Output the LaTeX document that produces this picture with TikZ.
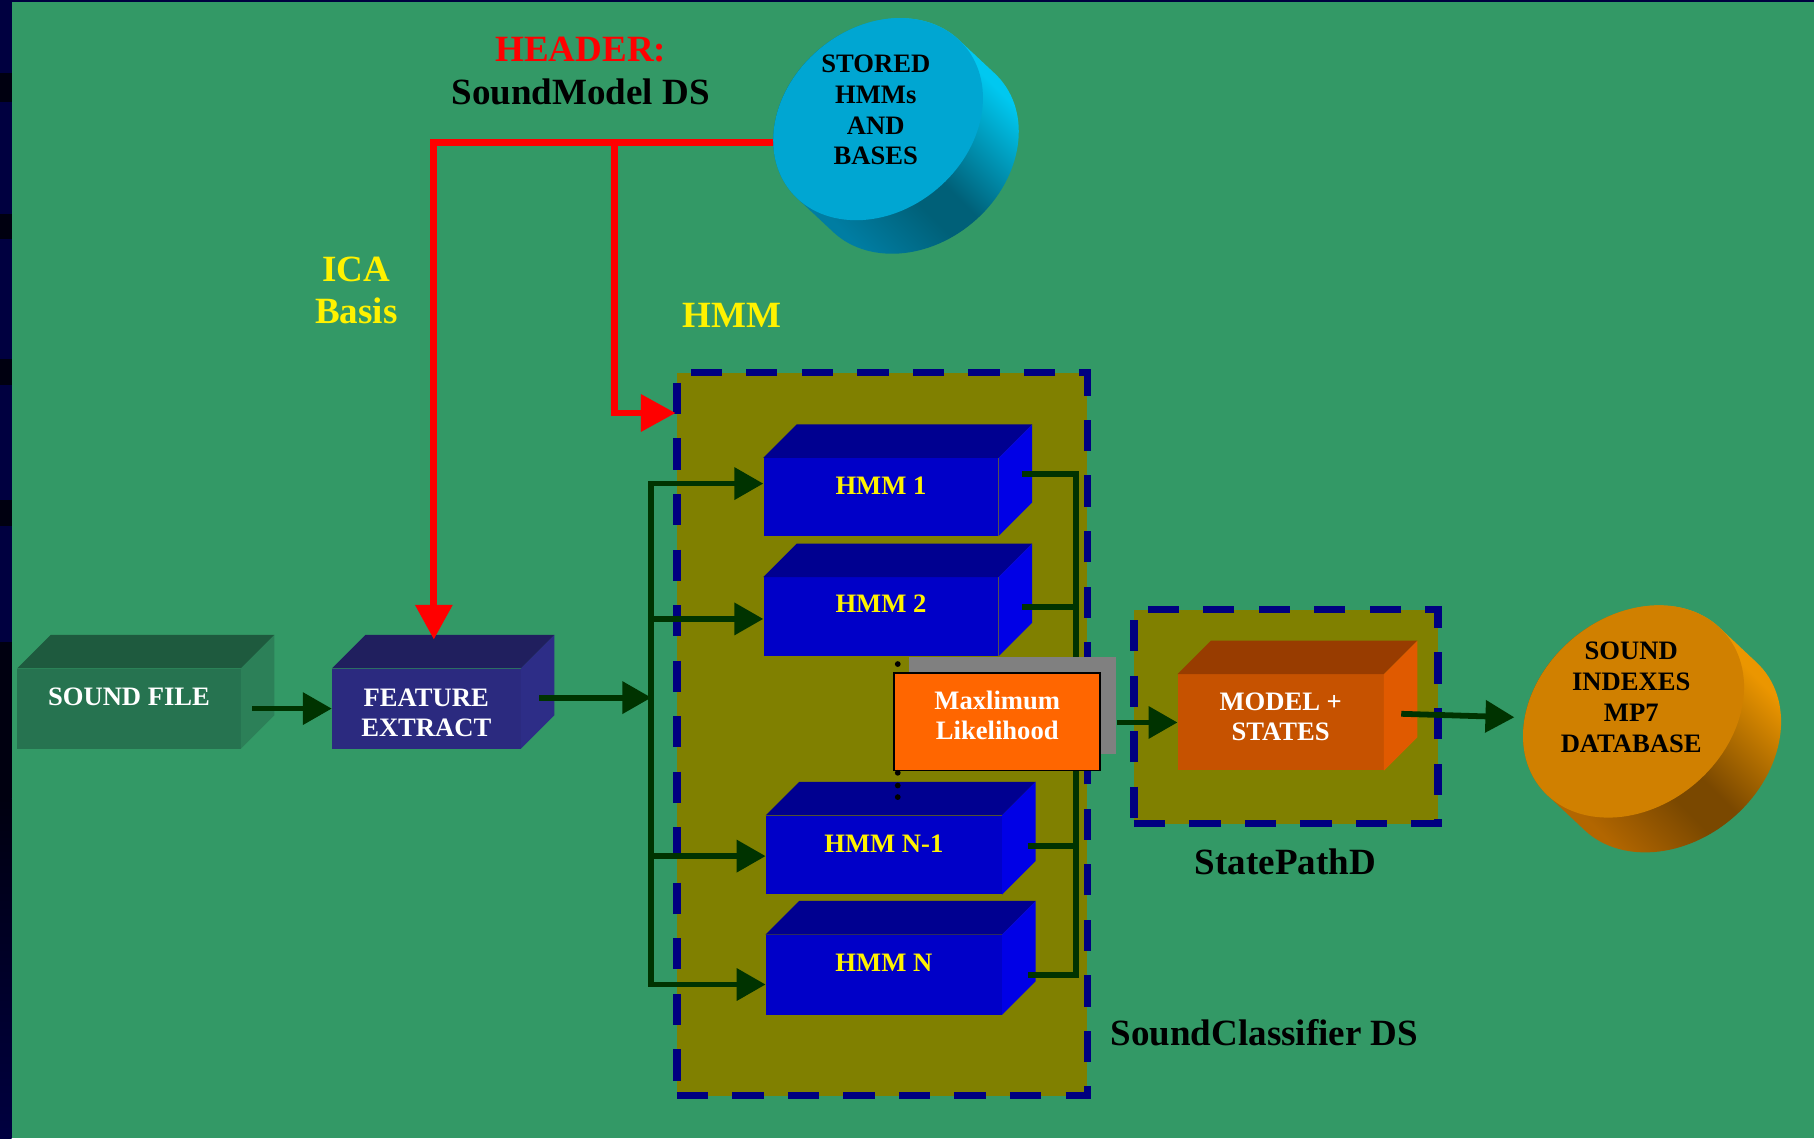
\documentclass[tikz,border=0pt]{standalone}
\usepackage{fontspec}
\setmainfont{Liberation Serif}
\usetikzlibrary{arrows.meta}

\definecolor{bggreen}{RGB}{51,153,102}
\definecolor{stripnavy}{RGB}{0,0,64}
\definecolor{stripdark}{RGB}{0,0,16}
\definecolor{olivebg}{RGB}{128,128,0}
\definecolor{dsnavy}{RGB}{0,0,128}
\definecolor{flowgreen}{RGB}{0,51,0}
\definecolor{sffront}{RGB}{38,115,80}
\definecolor{sftop}{RGB}{30,90,62}
\definecolor{sfside}{RGB}{44,128,88}
\definecolor{fefront}{RGB}{43,42,127}
\definecolor{fetop}{RGB}{32,31,94}
\definecolor{feside}{RGB}{45,45,135}
\definecolor{hmfront}{RGB}{0,0,200}
\definecolor{hmtop}{RGB}{0,0,144}
\definecolor{hmside}{RGB}{0,0,230}
\definecolor{mdfront}{RGB}{198,82,0}
\definecolor{mdtop}{RGB}{152,60,0}
\definecolor{mdside}{RGB}{224,90,0}
\definecolor{mlorange}{RGB}{255,102,0}
\definecolor{cyface}{RGB}{0,166,210}
\definecolor{cylight}{RGB}{0,200,240}
\definecolor{cydark}{RGB}{0,96,120}
\definecolor{cymid}{RGB}{0,125,162}
\definecolor{orface}{RGB}{208,128,0}
\definecolor{orlight}{RGB}{235,150,0}
\definecolor{ordark}{RGB}{122,72,0}
\definecolor{ormid}{RGB}{178,102,0}

\pgfdeclarehorizontalshading{drumcyan}{100bp}{color(0bp)=(cymid); color(30bp)=(cymid); color(44bp)=(cydark); color(50bp)=(cydark); color(70bp)=(cylight); color(100bp)=(cylight)}
\pgfdeclarehorizontalshading{drumorange}{100bp}{color(0bp)=(ormid); color(30bp)=(ormid); color(44bp)=(ordark); color(50bp)=(ordark); color(70bp)=(orlight); color(100bp)=(orlight)}

% top and right faces of a box whose front face is node #1
\newcommand{\blockfaces}[3]{%
  \fill[#2] (#1.north west) -- ++(29,-29) -- ([shift={(29,-29)}]#1.north east) -- (#1.north east) -- cycle;
  \fill[#3] (#1.north east) -- ++(29,-29) -- ([shift={(29,-29)}]#1.south east) -- (#1.south east) -- cycle;
}

\begin{document}
\begin{tikzpicture}[x=1pt, y=-1pt,
    flow/.style={draw=flowgreen, line width=5pt, -{Triangle[length=25pt, width=27pt]}},
    busline/.style={draw=flowgreen, line width=5pt},
    redflow/.style={draw=red, line width=6pt, -{Triangle[length=30pt, width=31pt]}},
    dsbox/.style={draw=dsnavy, fill=olivebg, line width=6.5pt, dash pattern=on 27pt off 21pt},
    blockface/.style={rectangle, inner sep=0pt, draw=none},
    cubetext/.style={font=\bfseries\fontsize{23}{26}\selectfont, align=center, text=white, inner sep=0pt},
    headtext/.style={font=\bfseries\fontsize{32}{37}\selectfont, align=center, inner sep=0pt},
    drumtext/.style={font=\bfseries\fontsize{23}{26.7}\selectfont, align=center, inner sep=0pt}]

	\useasboundingbox (0,0) rectangle (1568,984);
	\fill[bggreen] (0,0) rectangle (1568,984);
	\fill[stripnavy] (0,0) rectangle (10,984);
	\fill[stripnavy] (0,0) rectangle (1568,2);
	\foreach \a/\b in {63/88, 185/207, 310/333, 432/455}
		\fill[stripdark] (0,\a) rectangle (10,\b);
	\fill[stripdark] (0,555) rectangle (10,690);
	\shade[top color=stripdark, bottom color=stripnavy] (0,690) rectangle (10,984);

	% titles
	\node[headtext] (header) at (502,61.5) {\textcolor{red}{HEADER:}\\SoundModel DS};
	\node[headtext, text=yellow] (ica) at (308,251) {ICA\\Basis};
	\node[headtext, text=yellow] (hmmlbl) at (633,273) {HMM};

	% descriptor frames
	\node[dsbox, minimum width=355, minimum height=625] (hmmds) at (762.5,634.5) {};
	\node[dsbox, minimum width=263, minimum height=185] (spd) at (1111.5,619.5) {};

	% boxes
	\node[blockface, fill=sffront, minimum width=193, minimum height=69,
		label={[cubetext, yshift=10.5pt]center:SOUND FILE}] (sfile) at (111.5,612.5) {};
	\blockfaces{sfile}{sftop}{sfside}
	\node[blockface, fill=fefront, minimum width=163, minimum height=69,
		label={[cubetext, yshift=-3.5pt]center:FEATURE\\EXTRACT}] (feat) at (368.5,612.5) {};
	\blockfaces{feat}{fetop}{feside}
	\node[blockface, fill=hmfront, minimum width=203, minimum height=67,
		label={[cubetext, text=yellow, yshift=9.5pt]center:HMM 1}] (hmma) at (761.5,429.5) {};
	\blockfaces{hmma}{hmtop}{hmside}
	\node[blockface, fill=hmfront, minimum width=203, minimum height=68,
		label={[cubetext, text=yellow, yshift=11pt]center:HMM 2}] (hmmb) at (761.5,533) {};
	\blockfaces{hmmb}{hmtop}{hmside}
	\node[blockface, fill=hmfront, minimum width=204, minimum height=68,
		label={[cubetext, text=yellow, yshift=10pt]center:HMM N-1}] (hmmc) at (764,739) {};
	\blockfaces{hmmc}{hmtop}{hmside}
	\node[blockface, fill=hmfront, minimum width=204, minimum height=69,
		label={[cubetext, text=yellow, yshift=10.5pt]center:HMM N}] (hmmd) at (764,842.5) {};
	\blockfaces{hmmd}{hmtop}{hmside}
	\node[blockface, fill=mdfront, minimum width=178, minimum height=83,
		label={[cubetext, yshift=4.5pt]center:MODEL +\\STATES}] (model) at (1107,624.5) {};
	\blockfaces{model}{mdtop}{mdside}

	% header links
	\coordinate (storeout) at (672,123);
	\coordinate (hmmtap) at (531,123);
	\coordinate (hmmin) at (584,357);
	\draw[redflow] (storeout) -| ([shift={(6.5,-25)}]feat.north);
	\draw[redflow] (hmmtap) |- (hmmin);

	% stored models
	\begin{scope}[shift={(759,103)}, x=1pt, y=1pt, rotate=40]
		\shade[shading=drumcyan, shading angle=45]
			\foreach \k in {0,...,16} {(\k*5.1/16, -\k*42.1/16) ellipse [x radius=98, y radius=79]};
		\fill[cyface] (0,0) ellipse [x radius=98, y radius=79];
	\end{scope}
	\node[drumtext] (stored) at (757,95) {STORED\\HMMs\\AND\\BASES};

	% database
	\begin{scope}[shift={(1412,615)}, x=1pt, y=1pt, rotate=40]
		\shade[shading=drumorange, shading angle=45]
			\foreach \k in {0,...,16} {(\k*5.2/16, -\k*43.6/16) ellipse [x radius=104, y radius=82]};
		\fill[orface] (0,0) ellipse [x radius=104, y radius=82];
	\end{scope}
	\node[drumtext] (db) at (1410,603) {SOUND\\INDEXES\\MP7\\DATABASE};
	\coordinate (dbin) at (1309,620);

	% signal flow
	\coordinate (split) at (563,603);
	\draw[flow] ([shift={(10,0)}]sfile.east) -- (feat.west);
	\draw[flow] ([shift={(16,-9.5)}]feat.east) -- (split);
	\draw[flow] (split) |- ([shift={(0,-11.5)}]hmma.west);
	\draw[flow] (split) |- ([shift={(0,2)}]hmmb.west);
	\draw[flow] (split) |- ([shift={(0,1)}]hmmc.west);
	\draw[flow] (split) |- ([shift={(0,8.5)}]hmmd.west);
	\draw[busline] ([shift={(20,-19.5)}]hmma.east) -| ([shift={(64,0)}]hmmd.east) -- ([shift={(22,0)}]hmmd.east);
	\draw[busline] ([shift={(20,-8)}]hmmb.east) -- ++(47,0);
	\draw[busline] ([shift={(22,-8)}]hmmc.east) -- ++(42,0);

	% maximum likelihood
	\node[blockface, fill=gray, minimum width=179, minimum height=84] (mlshade) at (875.5,610) {};
	\node[draw=black, line width=1.5pt, fill=mlorange, minimum width=178, minimum height=84, inner sep=0pt,
		label={[cubetext, yshift=5.5pt]center:Maxlimum\\Likelihood}] (ml) at (862,624) {};
	\draw[flow] (mlshade.east |- model.west) -- (model.west);
	\draw[flow] ([shift={(15,-7.5)}]model.east) -- (dbin);
	\foreach \y in {574, 668, 679, 689}
		\fill (776,\y) circle (2.5);

	\node[headtext] (spdlbl) at (1111,745) {StatePathD};
	\node[headtext] (scds) at (1093,893) {SoundClassifier DS};
\end{tikzpicture}
\end{document}
